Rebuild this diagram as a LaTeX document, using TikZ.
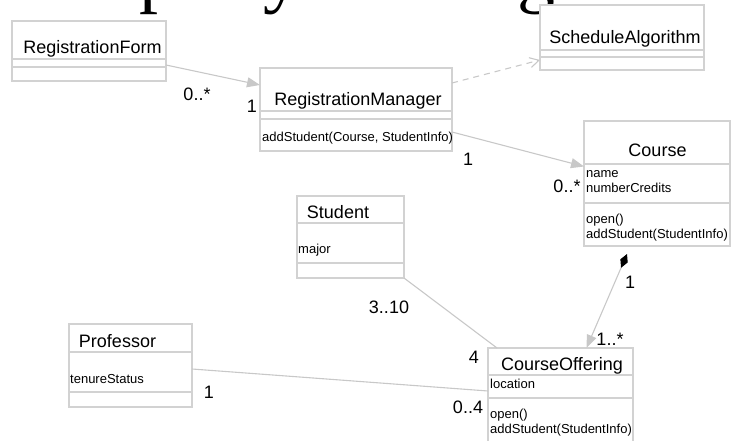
\documentclass[tikz,border=0pt]{standalone}
\usepackage{fontspec}
\setmainfont{Liberation Sans}
\newfontfamily\titlefont{Liberation Serif}
\usetikzlibrary{arrows.meta}

\definecolor{boxgray}{HTML}{D2D2D2}
\definecolor{linegray}{HTML}{C8C8C8}

\begin{document}
\begin{tikzpicture}[x=1pt,y=-1pt,
  cls/.style={draw=boxgray, line width=1.2pt, fill=white, rectangle,
    inner sep=0pt, outer sep=0pt, anchor=north west},
  sep/.style={draw=boxgray, line width=1.2pt},
  cname/.style={font=\fontsize{18}{20}\selectfont, anchor=base, inner sep=0pt},
  member/.style={font=\fontsize{13}{15}\selectfont, anchor=base west, inner sep=0pt},
  mult/.style={font=\fontsize{18}{20}\selectfont, anchor=base, inner sep=0pt},
  titleglyph/.style={font=\titlefont\fontsize{76}{76}\selectfont, anchor=base, inner sep=0pt},
  conn/.style={draw=linegray, line width=1.1pt},
  assoc/.style={conn, -{Triangle[length=13pt,width=10pt,color=linegray,fill=linegray]}},
  dep/.style={conn, dash pattern=on 6pt off 5pt, -{Straight Barb[length=9pt,width=10pt,color=linegray]}},
  comp/.style={conn, {Diamond[length=15pt,width=8pt,color=black,fill=black]}-{Triangle[length=13pt,width=10pt,color=linegray,fill=linegray]}},
]
\path[use as bounding box] (0,0) rectangle (731,441);
\clip (0,0) rectangle (731,441);

% lower edge of the slide title
\node[titleglyph] (tp) at (158,-1) {p};
\node[titleglyph] (ty) at (282,-1) {y};
\node[titleglyph] (tg) at (536,-1) {g};

% ---- classes ----
\node[cls, minimum width=154pt, minimum height=60pt] (form) at (12,21) {};
\draw[sep] ([yshift=-38pt]form.north west) -- ([yshift=-38pt]form.north east);
\draw[sep] ([yshift=-46pt]form.north west) -- ([yshift=-46pt]form.north east);
\node[cname] (formname) at (92.5,54) {RegistrationForm};

\node[cls, minimum width=164pt, minimum height=65pt] (sched) at (540,5) {};
\draw[sep] ([yshift=-45pt]sched.north west) -- ([yshift=-45pt]sched.north east);
\draw[sep] ([yshift=-52pt]sched.north west) -- ([yshift=-52pt]sched.north east);
\node[cname] (schedname) at (625,44) {ScheduleAlgorithm};

\node[cls, minimum width=192pt, minimum height=83pt] (manager) at (260,68) {};
\draw[sep] ([yshift=-43pt]manager.north west) -- ([yshift=-43pt]manager.north east);
\draw[sep] ([yshift=-51pt]manager.north west) -- ([yshift=-51pt]manager.north east);
\node[cname] (managername) at (358,106) {RegistrationManager};
\node[member] (managerop) at (262,142) {addStudent(Course, StudentInfo)};

\node[cls, minimum width=146pt, minimum height=125pt] (course) at (584,121) {};
\draw[sep] ([yshift=-43pt]course.north west) -- ([yshift=-43pt]course.north east);
\draw[sep] ([yshift=-82pt]course.north west) -- ([yshift=-82pt]course.north east);
\node[cname] (coursename) at (657.5,157) {Course};
\node[member] (courseattr1) at (586,177) {name};
\node[member] (courseattr2) at (586,193) {numberCredits};
\node[member] (courseop1) at (586,223) {open()};
\node[member] (courseop2) at (586,238) {addStudent(StudentInfo)};

\node[cls, minimum width=107pt, minimum height=82pt] (student) at (297,196) {};
\draw[sep] ([yshift=-27pt]student.north west) -- ([yshift=-27pt]student.north east);
\draw[sep] ([yshift=-67pt]student.north west) -- ([yshift=-67pt]student.north east);
\node[cname] (studentname) at (338,218) {Student};
\node[member] (studentattr) at (298,253) {major};

\node[cls, minimum width=123pt, minimum height=83pt] (prof) at (69,324) {};
\draw[sep] ([yshift=-28pt]prof.north west) -- ([yshift=-28pt]prof.north east);
\draw[sep] ([yshift=-68pt]prof.north west) -- ([yshift=-68pt]prof.north east);
\node[cname] (profname) at (117.5,347) {Professor};
\node[member] (profattr) at (70,383) {tenureStatus};

\node[cls, minimum width=145pt, minimum height=98pt] (offering) at (488,348) {};
\draw[sep] ([yshift=-27pt]offering.north west) -- ([yshift=-27pt]offering.north east);
\draw[sep] ([yshift=-50pt]offering.north west) -- ([yshift=-50pt]offering.north east);
\node[cname] (offeringname) at (562,370) {CourseOffering};
\node[member] (offeringattr) at (490,388) {location};
\node[member] (offeringop1) at (490,418) {open()};
\node[member] (offeringop2) at (490,433) {addStudent(StudentInfo)};

% ---- relationships ----
\draw[assoc] ([yshift=-14pt]form.east) -- ([yshift=24.5pt]manager.west);
\draw[dep] ([yshift=26.5pt]manager.east) -- ([yshift=-22.5pt]sched.west);
\draw[assoc] ([yshift=-22.5pt]manager.east) -- ([yshift=17pt]course.west);
\draw[comp] ([xshift=-30pt,yshift=-8pt]course.south) -- ([xshift=26pt]offering.north);
\draw[conn] (student.south east) -- ([xshift=9pt]offering.north west);
\draw[conn] ([yshift=-3.5pt]prof.east) -- ([yshift=6pt]offering.west);

% ---- multiplicities ----
\node[mult] (m1) at (197,101) {0..*};
\node[mult] (m2) at (252,113) {1};
\node[mult] (m3) at (468,165) {1};
\node[mult] (m4) at (567,193) {0..*};
\node[mult] (m5) at (630,288) {1};
\node[mult] (m6) at (610,345) {1..*};
\node[mult] (m7) at (389,313) {3..10};
\node[mult] (m8) at (474,363) {4};
\node[mult] (m9) at (209,398) {1};
\node[mult] (m10) at (468,413) {0..4};
\end{tikzpicture}
\end{document}
